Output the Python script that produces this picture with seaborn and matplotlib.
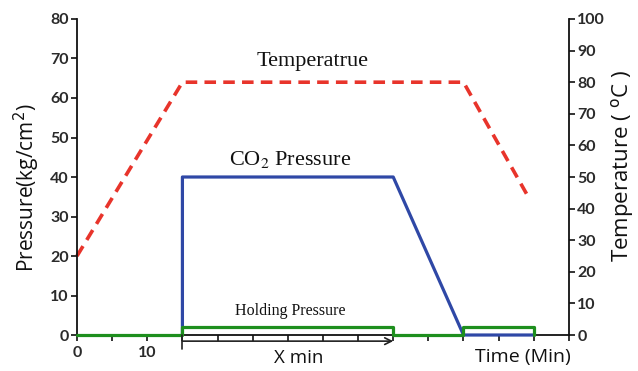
import matplotlib
matplotlib.use("Agg")
import matplotlib.pyplot as plt
import seaborn as sns
import pandas as pd

# Data
temp_time = [0, 15, 55, 64.4]
temp_vals = [25, 80, 80, 43]
co2_time = [15, 15, 45, 55, 65]
co2_vals = [0, 40, 40, 0, 0]
hold_time = [0, 15, 15, 45, 45, 55, 55, 65, 65]
hold_vals = [0, 0, 2, 2, 0, 0, 2, 2, 0]
x_ticks = list(range(0, 75, 5))
x_ticklabels = ["0", "", "10"] + [""] * 12
left_ticks = list(range(0, 90, 10))
right_ticks = list(range(0, 110, 10))

sns.set_theme(style="ticks")
plt.rcParams['font.family'] = ['Open Sans', 'DejaVu Sans']

RED = "#e8342b"
BLUE = "#2f48a6"
GREEN = "#1e8f1e"

fig = plt.figure(figsize=(6.38, 3.71), dpi=100)
ax = fig.add_axes([0.1207, 0.0970, 0.771, 0.8518])
ax2 = ax.twinx()

df_co2 = pd.DataFrame({"t": co2_time, "v": co2_vals})
df_hold = pd.DataFrame({"t": hold_time, "v": hold_vals})
df_temp = pd.DataFrame({"t": temp_time, "v": temp_vals})

sns.lineplot(data=df_co2, x="t", y="v", ax=ax, sort=False, estimator=None,
             color=BLUE, linewidth=2.3, clip_on=False, zorder=3)
sns.lineplot(data=df_hold, x="t", y="v", ax=ax, sort=False, estimator=None,
             color=GREEN, linewidth=2.3, clip_on=False, zorder=4)
sns.lineplot(data=df_temp, x="t", y="v", ax=ax2, sort=False, estimator=None,
             color=RED, linewidth=2.6, dashes=False, clip_on=False)
for ln in ax2.get_lines():
    ln.set_dashes((3.2, 2.0))

ax.set_xlim(0, 70)
ax.set_ylim(0, 80)
ax2.set_ylim(0, 100)

ax.set_xticks(x_ticks)
ax.set_xticklabels(x_ticklabels)
ax.set_yticks(left_ticks)
ax2.set_yticks(right_ticks)

for lab in ax.get_yticklabels() + ax.get_xticklabels() + ax2.get_yticklabels():
    lab.set_family(['Lato', 'DejaVu Sans'])
    lab.set_fontsize(11.5)
    lab.set_fontweight('bold')
    lab.set_color('#2a2a2a')

ax.tick_params(axis='both', direction='out', length=4, width=1.2, color='#111111', pad=2)
ax.tick_params(axis='x', pad=4)
ax2.tick_params(axis='y', direction='out', length=4, width=1.2, color='#111111', pad=2)

for a in (ax, ax2):
    a.spines['top'].set_visible(False)
    for s in ('left', 'right', 'bottom'):
        a.spines[s].set_linewidth(1.3)
        a.spines[s].set_color('#111111')
ax.spines['right'].set_visible(False)
ax2.spines['left'].set_visible(False)
ax2.spines['bottom'].set_visible(False)

ax.set_xlabel("")
ax.set_ylabel("Pressure(kg/cm$^2$)", fontsize=15, color='#111111')
ax.yaxis.set_label_coords(-0.101, 0.465)
ax.yaxis.label.set_verticalalignment('center')
ax2.set_xlabel("")
ax2.set_ylabel("Temperature ( $^{\\mathrm{o}}$C )", fontsize=16, color='#111111')
ax2.yaxis.set_label_coords(1.108, 0.535)
ax2.yaxis.label.set_verticalalignment('center')

# Annotations
serif = ['Liberation Serif', 'DejaVu Serif']
ax.text(33.5, 69.2, "Temperatrue", family=serif, fontsize=16, ha='center', va='center', color='#111111')
ax.text(30.3, 44.5, "CO$_2$ Pressure", family=serif, fontsize=16, ha='center', va='center',
        color='#111111', math_fontfamily='stix')
ax.text(30.4, 6.0, "Holding Pressure", family=serif, fontsize=11.5, ha='center', va='center', color='#111111')
ax.text(31.6, -5.8, "X min", fontsize=13.5, ha='center', va='center', color='#111111', clip_on=False)
ax.text(63.5, -5.6, "Time (Min)", fontsize=14, ha='center', va='center', color='#111111', clip_on=False)

# Bracket under axis for X min
ax.plot([15, 15], [0, -3.6], color='#222222', lw=1.2, clip_on=False, zorder=5)
ax.annotate("", xy=(45, -1.55), xytext=(15, -1.55), xycoords='data',
            arrowprops=dict(arrowstyle='->', color='#222222', lw=1.2, mutation_scale=12,
                            shrinkA=0, shrinkB=0), annotation_clip=False)

ax.set_zorder(ax2.get_zorder() + 1)
ax.patch.set_visible(False)

fig.savefig("out.png", dpi=100)
